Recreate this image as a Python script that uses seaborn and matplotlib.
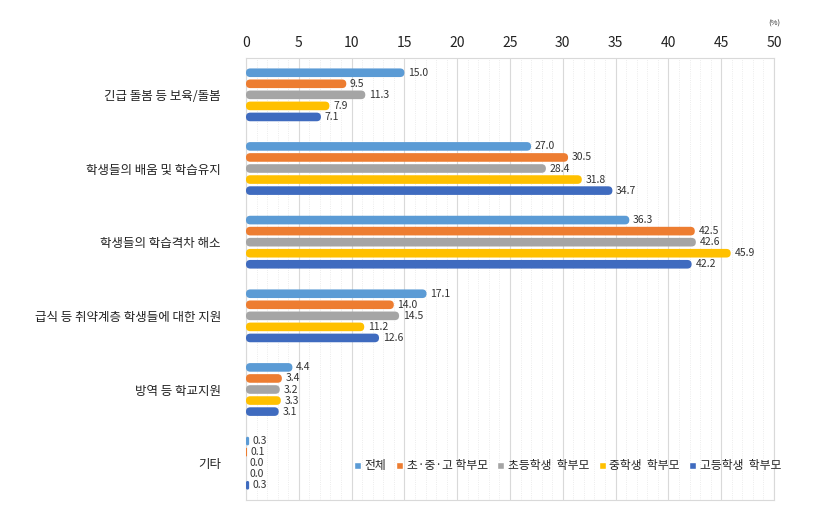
import numpy as np
import pandas as pd
import matplotlib
matplotlib.use('Agg')
import matplotlib.pyplot as plt
import seaborn as sns
from matplotlib.patches import FancyBboxPatch
from matplotlib.ticker import MultipleLocator

# data
categories = ['긴급 돌봄 등 보육/돌봄', '학생들의 배움 및 학습유지', '학생들의 학습격차 해소',
              '급식 등 취약계층 학생들에 대한 지원', '방역 등 학교지원', '기타']
series = ['전체', '초·중·고 학부모', '초등학생  학부모', '중학생  학부모', '고등학생  학부모']
total = [15.0, 27.0, 36.3, 17.1, 4.4, 0.3]
all_parents = [9.5, 30.5, 42.5, 14.0, 3.4, 0.1]
elementary = [11.3, 28.4, 42.6, 14.5, 3.2, 0.0]
middle = [7.9, 31.8, 45.9, 11.2, 3.3, 0.0]
high = [7.1, 34.7, 42.2, 12.6, 3.1, 0.3]
colors = ['#5B9BD5', '#ED7D31', '#A5A5A5', '#FFC000', '#3F6BBF']

values = [total, all_parents, elementary, middle, high]
df = pd.DataFrame({
    'category': np.tile(categories, len(series)),
    'group': np.repeat(series, len(categories)),
    'value': np.concatenate(values),
})

sns.set_style('white')
plt.rcParams['font.family'] = ['Noto Sans CJK KR', 'DejaVu Sans']

fig = plt.figure(figsize=(8.15, 5.24), dpi=100)
ax = fig.add_axes([0.3018, 0.0458, 0.6479, 0.8435])

sns.barplot(data=df, y='category', x='value', hue='group', hue_order=series,
            palette=colors, saturation=1, orient='h', width=0.75, ax=ax, legend=True)

ax.set_xlim(0, 50)
ax.set_ylim(5.5, -0.5)

# rounded bars: replace rectangles with rounded boxes
px_per_x = 0.6479 * 815 / 50
px_per_y = 0.8435 * 524 / 6
for p in list(ax.patches):
    x0, y0 = p.get_x(), p.get_y()
    w, h = p.get_width(), p.get_height()
    if h <= 0 or h > 1:
        continue
    fc = p.get_facecolor()
    p.remove()
    nh = h * 0.78
    ny = y0 + (h - nh) / 2
    if w <= 0:
        continue
    rad_px = min(nh * px_per_y / 2, w * px_per_x / 2)
    r = rad_px / px_per_x
    aspect = px_per_x / px_per_y
    ax.add_patch(FancyBboxPatch((x0, ny), w, nh,
                                boxstyle=f'round,pad=0,rounding_size={r}',
                                mutation_aspect=aspect, fc=fc, ec='none', zorder=3))

# value labels
for gi, vals in enumerate(values):
    for ci, v in enumerate(vals):
        ypos = ci + (gi - 2) * 0.15
        ax.text(v + 0.35, ypos, f'{v:.1f}', va='center', ha='left',
                fontsize=7.5, color='#333333', zorder=4)

# axes styling
ax.xaxis.tick_top()
ax.xaxis.set_major_locator(MultipleLocator(5))
ax.xaxis.set_minor_locator(MultipleLocator(1))
ax.tick_params(axis='x', which='both', length=0, labelsize=10, colors='#222222', pad=6)
ax.tick_params(axis='y', length=0, labelsize=9, colors='#222222', pad=18)
ax.grid(axis='x', which='major', color='#D9D9D9', lw=0.8, zorder=0)
ax.grid(axis='x', which='minor', color='#E6E6E6', lw=0.6, ls=':', zorder=0)
ax.set_axisbelow(True)
for s in ax.spines.values():
    s.set_color('#D9D9D9')
    s.set_linewidth(0.8)
ax.set_xlabel('')
ax.set_ylabel('')
ax.text(50, 1.068, '(%)', transform=ax.get_xaxis_transform(), ha='center',
        va='bottom', fontsize=5.5, color='#333333')

handles, labels = ax.get_legend_handles_labels()
ax.legend(handles, labels, loc='center left', bbox_to_anchor=(0.205, 0.077),
          ncol=5, frameon=False, fontsize=8.5, handlelength=0.6, handleheight=0.6,
          handletextpad=0.3, columnspacing=0.8, borderaxespad=0, borderpad=0)

fig.savefig('out.png', dpi=100)
